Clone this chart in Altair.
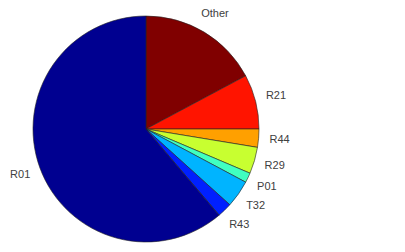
import altair as alt
import pandas as pd

categories = ["Other", "R21", "R44", "R29", "P01", "T32", "R43", "R01"]
values = [17.2, 7.8, 2.6, 3.8, 1.4, 3.9, 2.1, 61.2]
colors = ["#800000", "#FF1400", "#FFA000", "#C8FF30", "#40FFC0", "#00B4FF", "#0020FF", "#000090"]

df = pd.DataFrame({"cat": categories, "val": values, "idx": list(range(len(categories)))})

base = alt.Chart(df).encode(
    theta=alt.Theta("val:Q", stack=True),
    order=alt.Order("idx:Q"),
)

pie = base.mark_arc(outerRadius=113, stroke="#222222", strokeWidth=0.6).encode(
    color=alt.Color("cat:N", scale=alt.Scale(domain=categories, range=colors), legend=None),
    x=alt.value(138),
    y=alt.value(113),
)

labels = base.mark_text(radius=134, font="Liberation Sans", fontSize=11, color="#404040").encode(
    text="cat:N",
    x=alt.value(138),
    y=alt.value(113),
)

chart = (pie + labels).properties(
    width=389, height=228, autosize=alt.AutoSizeParams(type="none"),
    padding={"left": 0, "top": 8, "right": 0, "bottom": 0}
).configure_view(stroke=None)

chart.save("out.html", embed_options={"renderer": "svg", "actions": False})
